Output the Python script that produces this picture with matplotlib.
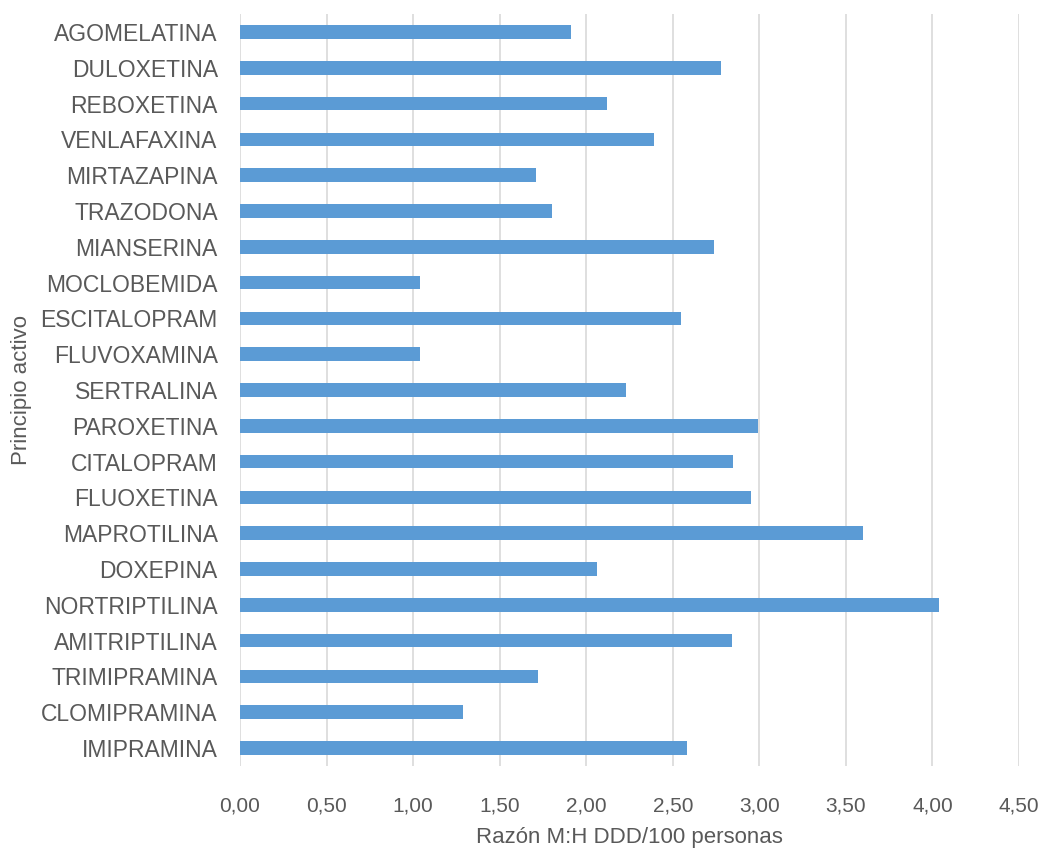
import matplotlib.pyplot as plt
from matplotlib.ticker import FuncFormatter

# bars are listed bottom to top
farmacos = ["IMIPRAMINA", "CLOMIPRAMINA", "TRIMIPRAMINA", "AMITRIPTILINA",
            "NORTRIPTILINA", "DOXEPINA", "MAPROTILINA", "FLUOXETINA",
            "CITALOPRAM", "PAROXETINA", "SERTRALINA", "FLUVOXAMINA",
            "ESCITALOPRAM", "MOCLOBEMIDA", "MIANSERINA", "TRAZODONA",
            "MIRTAZAPINA", "VENLAFAXINA", "REBOXETINA", "DULOXETINA",
            "AGOMELATINA"]
razon = [2.58, 1.29, 1.72, 2.84, 4.04, 2.06, 3.60, 2.95, 2.85, 2.99, 2.23,
         1.04, 2.55, 1.04, 2.74, 1.80, 1.71, 2.39, 2.12, 2.78, 1.91]
xticks = [0, 0.5, 1, 1.5, 2, 2.5, 3, 3.5, 4, 4.5]

plt.rcParams['font.family'] = ['Liberation Sans', 'DejaVu Sans']
gris = "#595959"

fig = plt.figure(figsize=(10.43, 8.48), dpi=100)
ax = fig.add_axes([0.2301, 0.0967, 0.7469, 0.8868])

ax.barh(range(len(farmacos)), razon, height=0.38, color="#5b9bd5", zorder=3)
ax.set_yticks(range(len(farmacos)))
ax.set_yticklabels(farmacos, fontsize=16.5, color=gris)
ax.set_ylim(-0.5, len(farmacos) - 0.5)

ax.set_xlim(0, 4.5)
ax.set_xticks(xticks)
ax.xaxis.set_major_formatter(FuncFormatter(lambda v, p: f"{v:.2f}".replace(".", ",")))
ax.tick_params(axis="x", labelsize=15, colors=gris, length=0, pad=22)
ax.tick_params(axis="y", length=0, pad=16)
ax.grid(axis="x", color="#d9d9d9", linewidth=1.2, zorder=0)

for s in ax.spines.values():
    s.set_visible(False)

ax.set_xlabel("Razón M:H DDD/100 personas", fontsize=16, color=gris, labelpad=8)
fig.text(22 / 1043, 1 - 390 / 848, "Principio activo", rotation=90,
         ha="center", va="center", fontsize=16, color=gris)

fig.savefig("out.png", dpi=100)
